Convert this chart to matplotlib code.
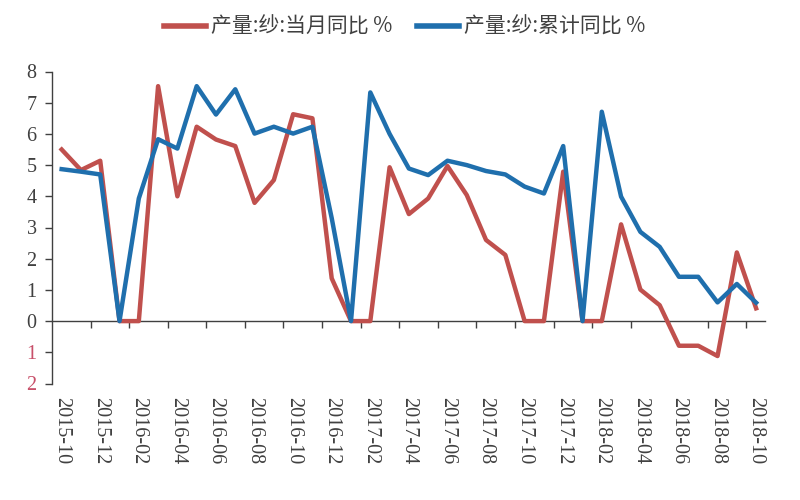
import numpy as np
import pandas as pd
import matplotlib
matplotlib.use("Agg")
import matplotlib.pyplot as plt

RED = "#c0504d"
BLUE = "#1f6fad"
TEXT = "#404040"
NEG = "#c8506a"

# monthly categories, 2015-10 .. 2018-10
months = list(pd.period_range("2015-10", "2018-10", freq="M").strftime("%Y-%m"))

# 产量:纱:当月同比 %
yarn_month = [5.5, 4.84, 5.14, 0, 0, 7.53, 4.0, 6.23, 5.82, 5.61, 3.79, 4.52,
              6.63, 6.50, 1.37, 0, 0, 4.93, 3.43, 3.93, 4.97, 4.04, 2.60, 2.12,
              0, 0, 4.79, 0, 0, 3.10, 1.01, 0.51, -0.79, -0.79, -1.12, 2.20, 0.41]
# 产量:纱:累计同比 %
yarn_cum = [4.87, 4.79, 4.70, 0, 3.93, 5.83, 5.53, 7.53, 6.62, 7.43, 6.01, 6.23,
            6.01, 6.23, 3.3, 0, 7.33, 6.0, 4.89, 4.68, 5.14, 5.0, 4.81, 4.70,
            4.31, 4.09, 5.61, 0, 6.71, 3.99, 2.86, 2.38, 1.42, 1.42, 0.60, 1.19, 0.59]

series_names = ["产量:纱:当月同比 %", "产量:纱:累计同比 %"]
ytick_vals = [-2, -1, 0, 1, 2, 3, 4, 5, 6, 7, 8]
ytick_text = ["2", "1", "0", "1", "2", "3", "4", "5", "6", "7", "8"]

fig = plt.figure(figsize=(8, 5), dpi=100)
fig.patch.set_facecolor("white")
ax = fig.add_axes([0.065, 0.233, 0.891, 0.624])

x = np.arange(len(months))
ax.plot(x, yarn_month, color=RED, lw=3.2, label=series_names[0], zorder=3)
ax.plot(x, yarn_cum, color=BLUE, lw=3.2, label=series_names[1], zorder=4)

ax.set_xlim(-0.5, 36.45)
ax.set_ylim(-2, 8)

# ── spines ───────────────────────────────────────────────
for s in ["top", "right", "bottom"]:
    ax.spines[s].set_visible(False)
ax.spines["left"].set_color("#404040")
ax.spines["left"].set_linewidth(1.0)

# y ticks
ax.set_yticks(ytick_vals)
ax.set_yticklabels(ytick_text, fontfamily="Liberation Serif", fontsize=14.5)
ax.tick_params(axis="y", direction="out", length=5, width=1.0,
               colors="#404040", pad=6)
for lbl, v in zip(ax.get_yticklabels(), ytick_vals):
    lbl.set_color(NEG if v < 0 else TEXT)

# x labels at the bottom, every 2 months
ax.set_xticks(x[::2])
ax.set_xticklabels(months[::2], rotation=270, fontfamily="Liberation Serif",
                   fontsize=14.5, color=TEXT, ha="center", va="top")
ax.tick_params(axis="x", length=0, pad=10)

# zero line with tick marks between label positions
zero_ax = ax.secondary_xaxis(0.2)
zero_ax.set_xticks(np.arange(1.5, 36, 2))
zero_ax.set_xticklabels([])
zero_ax.tick_params(direction="out", length=5, width=1.0, colors="#404040")
zero_ax.spines["bottom"].set_color("#404040")
zero_ax.spines["bottom"].set_linewidth(1.0)

# ── legend ───────────────────────────────────────────────
leg = fig.legend(loc="center", bbox_to_anchor=(0.506, 0.946), ncol=2,
                 frameon=False, handlelength=2.0, handletextpad=0.25,
                 columnspacing=1.2,
                 prop={"family": ["Noto Sans CJK SC", "DejaVu Sans"], "size": 15})
for t in leg.get_texts():
    t.set_color(TEXT)
for h in leg.get_lines():
    h.set_linewidth(4)

fig.savefig("out.png", dpi=100, facecolor="white")
